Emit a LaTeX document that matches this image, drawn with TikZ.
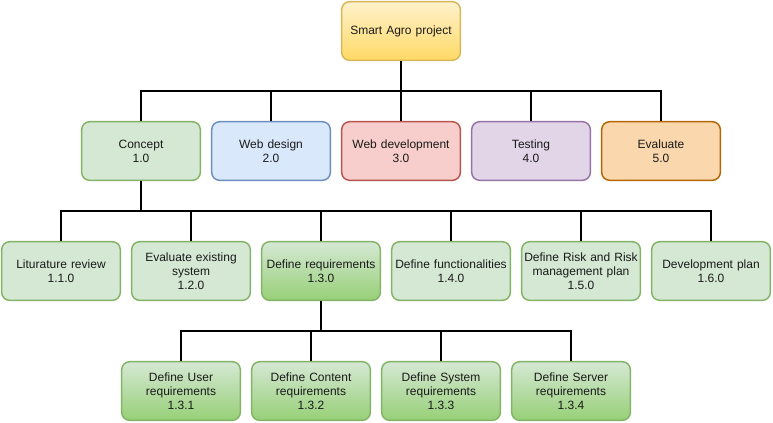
\documentclass[tikz,border=0pt]{standalone}
\usepackage{fontspec}
\setmainfont{Liberation Sans}
\definecolor{ylwF}{HTML}{FFF2CC}
\definecolor{ylwG}{HTML}{FFD966}
\definecolor{ylwD}{HTML}{D6B656}
\definecolor{grnF}{HTML}{D5E8D4}
\definecolor{grnG}{HTML}{97D077}
\definecolor{grnD}{HTML}{82B366}
\definecolor{bluF}{HTML}{DAE8FC}
\definecolor{bluD}{HTML}{6C8EBF}
\definecolor{redF}{HTML}{F8CECC}
\definecolor{redD}{HTML}{B85450}
\definecolor{purF}{HTML}{E1D5E7}
\definecolor{purD}{HTML}{9673A6}
\definecolor{orgF}{HTML}{FAD7AC}
\definecolor{orgD}{HTML}{B46504}
\definecolor{txt}{HTML}{1A1A1A}
\tikzset{
  box/.style={draw, line width=1.1pt, rounded corners=6pt, minimum width=89pt, minimum height=44pt,
    inner sep=1pt, align=center, text width=86pt, font=\fontsize{9}{10.4}\selectfont, text=txt},
  plaingreen/.style={box, fill=grnF, draw=grnD},
  gradgreen/.style={box, top color=grnF, bottom color=grnG, draw=grnD},
  trunk/.style={draw=black, line width=1.7pt},
  branch/.style={draw=black, line width=1pt}
}
\begin{document}
\begin{tikzpicture}[x=0.75pt,y=-0.75pt]
\useasboundingbox (0,0) rectangle (773,422);
\node[box, top color=ylwF, bottom color=ylwG, draw=ylwD] (top) at (401,31) {Smart Agro project};
\node[plaingreen] (concept) at (141,151) {Concept\\1.0};
\node[box, fill=bluF, draw=bluD] (webd) at (271,151) {Web design\\2.0};
\node[box, fill=redF, draw=redD] (webdev) at (401,151) {Web development\\3.0};
\node[box, fill=purF, draw=purD] (test) at (531,151) {Testing\\4.0};
\node[box, fill=orgF, draw=orgD] (eval) at (661,151) {Evaluate\\5.0};
\node[plaingreen] (lit) at (61,271) {Liturature review\\1.1.0};
\node[plaingreen] (exist) at (191,271) {Evaluate existing\\system\\1.2.0};
\node[gradgreen] (req) at (321,271) {Define requirements\\1.3.0};
\node[plaingreen] (func) at (451,271) {Define functionalities\\1.4.0};
\node[plaingreen] (risk) at (581,271) {Define Risk and Risk\\management plan\\1.5.0};
\node[plaingreen] (dev) at (711,271) {Development plan\\1.6.0};
\node[gradgreen] (usr) at (181,391) {Define User\\requirements\\1.3.1};
\node[gradgreen] (cont) at (311,391) {Define Content\\requirements\\1.3.2};
\node[gradgreen] (sys) at (441,391) {Define System\\requirements\\1.3.3};
\node[gradgreen] (srv) at (571,391) {Define Server\\requirements\\1.3.4};
\coordinate (bar1) at (401,91);
\coordinate (bar2) at (141,211);
\coordinate (bar3) at (321,331);
\draw[trunk] (top.south) -- (bar1);
\foreach \n in {concept,webd,webdev,test,eval} \draw[branch] (bar1) -| (\n.north);
\draw[trunk] (concept.south) -- (bar2);
\foreach \n in {lit,exist,req,func,risk,dev} \draw[branch] (bar2) -| (\n.north);
\draw[trunk] (req.south) -- (bar3);
\foreach \n in {usr,cont,sys,srv} \draw[branch] (bar3) -| (\n.north);
\end{tikzpicture}
\end{document}
